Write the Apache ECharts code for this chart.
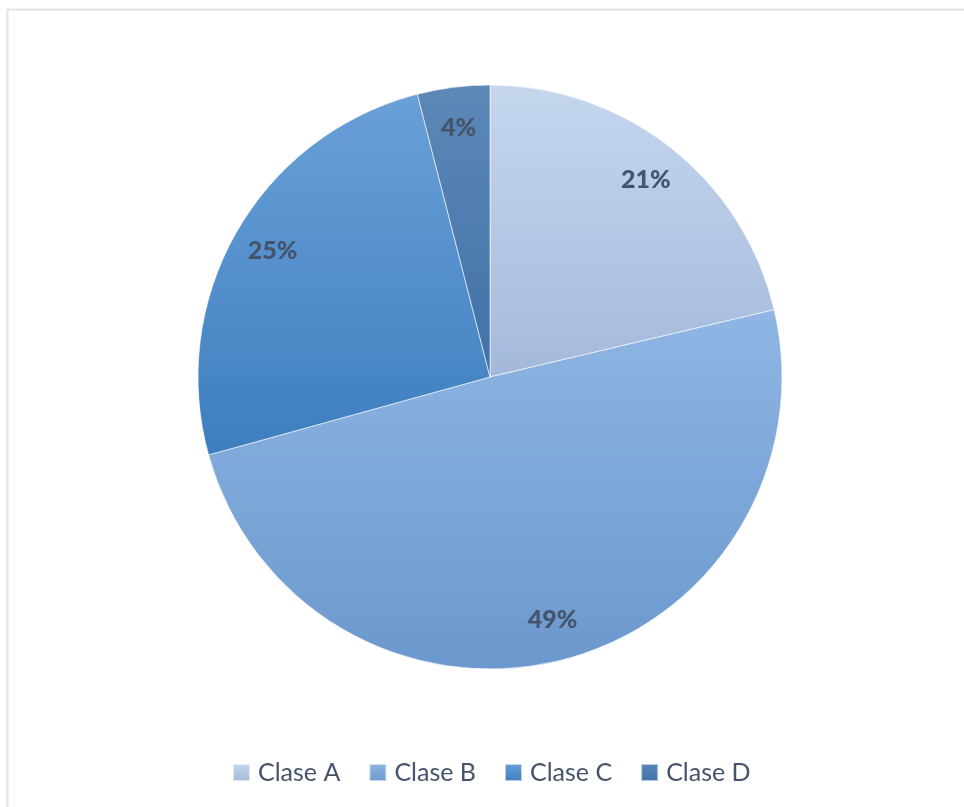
<!DOCTYPE html>
<html><head><meta charset="utf-8">
<script src="https://cdn.jsdelivr.net/npm/echarts@6/dist/echarts.min.js"></script>
<style>html,body{margin:0;padding:0;background:#fff}#c{width:964px;height:807px}</style>
</head><body><div id="c"></div>
<script>
const categories = ['Clase A', 'Clase B', 'Clase C', 'Clase D'];
const values = [21.3, 49.4, 25.3, 4.0];
const labels = ['21%', '49%', '25%', '4%'];
const topColors = ['#c5d6ee', '#8fb6e4', '#6aa0d8', '#5d88b8'];
const bottomColors = ['#a4b9da', '#6b98cd', '#3d7ebf', '#3f71a8'];

function grad(i){
  return new echarts.graphic.LinearGradient(0,0,0,1,[{offset:0,color:topColors[i]},{offset:1,color:bottomColors[i]}]);
}
const chart = echarts.init(document.getElementById('c'), null, {renderer:'canvas'});
const R = 292;
chart.setOption({
  animation:false,
  graphic:[{type:'rect',shape:{x:7.5,y:9.5,width:1200,height:1200},style:{fill:'none',stroke:'#dfe3ea',lineWidth:2},silent:true,z:-1}],
  legend:{
    bottom:17, left:227,
    itemWidth:17, itemHeight:17, itemGap:28,
    icon:'rect',
    textStyle:{fontFamily:'Lato', fontSize:25, color:'#44546a', padding:[0,0,0,3]},
    data:categories
  },
  series:[{
    type:'pie', center:[490,377], radius:[0,R], startAngle:90, clockwise:true,
    label:{show:false}, labelLine:{show:false},
    itemStyle:{borderColor:'rgba(255,255,255,0.6)', borderWidth:1},
    data:categories.map((c,i)=>({name:c,value:values[i],itemStyle:{color:grad(i)}}))
  },{
    type:'pie', center:[490,377], radius:[R*0.7,R], startAngle:90, clockwise:true,
    silent:true, legendHoverLink:false,
    itemStyle:{color:'rgba(0,0,0,0)', borderWidth:0},
    label:{show:true, position:'inside', formatter:(p)=>labels[p.dataIndex],
      fontFamily:'Lato', fontWeight:900, fontSize:25, color:'#44546a'},
    labelLine:{show:false},
    data:categories.map((c,i)=>({name:c+' ',value:values[i]}))
  }]
});
</script></body></html>
